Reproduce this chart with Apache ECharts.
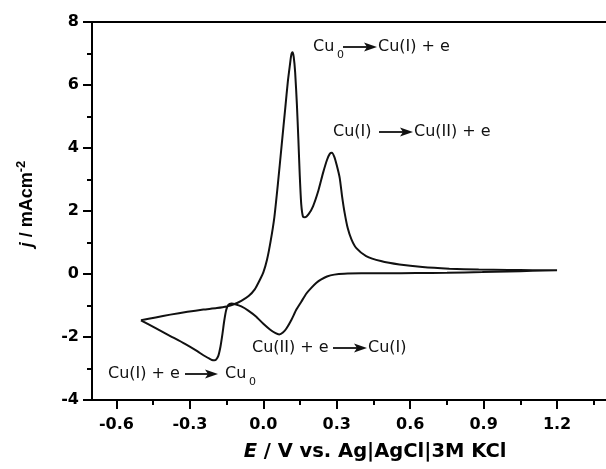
<!DOCTYPE html>
<html>
<head>
<meta charset="utf-8">
<script src="https://cdn.jsdelivr.net/npm/echarts@6/dist/echarts.min.js"></script>
<style>html,body{margin:0;padding:0;background:#fff}#c{width:606px;height:469px}</style>
</head>
<body>
<div id="c"></div>
<script>
// Anodic sweep (from negative vertex to +1.2 V)
const E_forward = [-0.50,-0.44,-0.38,-0.31,-0.245,-0.19,-0.15,-0.12,-0.09,-0.06,-0.035,-0.015,0.0,0.015,0.03,0.045,0.06,0.075,0.09,0.10,0.108,0.114,0.119,0.124,0.13,0.137,0.143,0.149,0.155,0.162,0.17,0.185,0.203,0.225,0.244,0.26,0.272,0.28,0.29,0.30,0.312,0.322,0.332,0.345,0.36,0.38,0.42,0.48,0.556,0.65,0.76,0.88,1.0,1.1,1.2];
const j_forward = [-1.47,-1.38,-1.29,-1.20,-1.13,-1.08,-1.03,-0.96,-0.85,-0.70,-0.49,-0.20,0.05,0.45,1.05,1.8,2.9,4.1,5.3,6.1,6.6,6.95,7.04,6.9,6.4,5.4,4.3,3.1,2.2,1.82,1.8,1.9,2.15,2.65,3.21,3.62,3.82,3.85,3.72,3.45,3.05,2.45,1.95,1.45,1.1,0.82,0.57,0.41,0.30,0.22,0.17,0.14,0.13,0.12,0.12];
// Cathodic sweep (from +1.2 V back to the negative vertex)
const E_reverse = [1.1,1.0,0.895,0.75,0.624,0.5,0.4,0.33,0.29,0.26,0.235,0.217,0.195,0.176,0.155,0.135,0.115,0.095,0.08,0.065,0.05,0.027,0.0,-0.03,-0.06,-0.09,-0.115,-0.13,-0.143,-0.152,-0.16,-0.167,-0.175,-0.184,-0.193,-0.2,-0.21,-0.22,-0.245,-0.27,-0.32,-0.38,-0.44,-0.50];
const j_reverse = [0.10,0.08,0.06,0.04,0.03,0.02,0.02,0.01,-0.02,-0.08,-0.18,-0.28,-0.45,-0.62,-0.88,-1.13,-1.45,-1.72,-1.86,-1.92,-1.88,-1.76,-1.58,-1.35,-1.17,-1.03,-0.96,-0.94,-0.98,-1.15,-1.5,-1.9,-2.3,-2.6,-2.72,-2.74,-2.73,-2.69,-2.58,-2.45,-2.22,-1.97,-1.72,-1.47];

const xMajorTicks = [-0.6,-0.3,0.0,0.3,0.6,0.9,1.2];
const xMinorTicks = [-0.45,-0.15,0.15,0.45,0.75,1.05,1.35];
const yTicks = [-4,-2,0,2,4,6,8];

const cvData = [];
E_forward.forEach((e,i)=>cvData.push([e, j_forward[i]]));
E_reverse.forEach((e,i)=>cvData.push([e, j_reverse[i]]));

const FONT = '"DejaVu Sans", "Liberation Sans", Arial, sans-serif';
const FONT_NARROW = '"Liberation Sans", Arial, sans-serif';
const annFont = '16px ' + FONT;
const subFont = '11px ' + FONT;

function txt(x, y, s, font) {
  return {type:'text', x:x, y:y, z:10, style:{text:s, font:font||annFont, fill:'#111', align:'left', verticalAlign:'middle'}};
}
function arrow(x1, x2, y) {
  return [
    {type:'line', z:10, shape:{x1:x1, y1:y, x2:x2-9, y2:y}, style:{stroke:'#111', lineWidth:1.8}},
    {type:'polygon', z:10, shape:{points:[[x2-13,y-4.5],[x2,y],[x2-13,y+4.5],[x2-10,y]]}, style:{fill:'#111'}}
  ];
}

const X_MIN = -0.7, X_MAX = 1.4;
const chart = echarts.init(document.getElementById('c'), null, {renderer:'canvas'});
chart.setOption({
  animation:false,
  backgroundColor:'#fff',
  grid:{left:92, top:22, right:0, height:378},
  xAxis:[{
    type:'value', min:X_MIN, max:X_MAX, position:'bottom',
    axisLine:{show:true, onZero:false, lineStyle:{color:'#000', width:2}},
    axisTick:{show:true, customValues:xMajorTicks, length:9, lineStyle:{color:'#000', width:2}},
    axisLabel:{customValues:xMajorTicks, formatter:v=>v.toFixed(1), color:'#000', fontFamily:FONT, fontWeight:'bold', fontSize:16, margin:17},
    splitLine:{show:false},
    name:'{i|E} / V vs. Ag|AgCl|3M KCl', nameLocation:'middle', nameGap:42,
    nameTextStyle:{color:'#000', fontFamily:FONT, fontWeight:'bold', fontSize:19.5, padding:[0,0,0,52],
      rich:{i:{fontStyle:'italic', fontWeight:'bold', fontFamily:FONT, fontSize:19.5, color:'#000'}}}
  },{
    type:'value', min:X_MIN, max:X_MAX, position:'bottom',
    axisLine:{show:false, onZero:false},
    axisTick:{show:true, customValues:xMinorTicks, length:5, lineStyle:{color:'#000', width:2}},
    axisLabel:{show:false}, splitLine:{show:false}
  },{
    type:'value', min:X_MIN, max:X_MAX, position:'top',
    axisLine:{show:true, onZero:false, lineStyle:{color:'#000', width:2}},
    axisTick:{show:false}, axisLabel:{show:false}, splitLine:{show:false}
  }],
  yAxis:{
    type:'value', min:-4, max:8, interval:2,
    axisLine:{show:true, onZero:false, lineStyle:{color:'#000', width:2}},
    axisTick:{show:true, length:9, lineStyle:{color:'#000', width:2}},
    minorTick:{show:true, splitNumber:2, length:5, lineStyle:{color:'#000', width:2}},
    axisLabel:{color:'#000', fontFamily:FONT, fontWeight:'bold', fontSize:16, margin:13},
    splitLine:{show:false},
    name:'{i|j} / mAcm{s|-2}', nameLocation:'middle', nameGap:52, nameRotate:90,
    nameTextStyle:{color:'#000', fontFamily:FONT_NARROW, fontWeight:'bold', fontSize:18, padding:[0,0,0,14],
      rich:{i:{fontStyle:'italic', fontWeight:'bold', fontFamily:FONT_NARROW, fontSize:18, color:'#000'},
            s:{fontWeight:'bold', fontFamily:FONT_NARROW, fontSize:13, color:'#000', verticalAlign:'top', padding:[0,0,12,0]}}}
  },
  series:[{
    type:'line', xAxisIndex:0, yAxisIndex:0, data:cvData, showSymbol:false, smooth:0.2,
    lineStyle:{color:'#111', width:2}, clip:true
  }],
  graphic:[].concat(
    [txt(313,47,'Cu'), txt(337,55,'0',subFont)], arrow(343,377,47), [txt(378,47,'Cu(I) + e')],
    [txt(333,132,'Cu(I)')], arrow(379,413,132), [txt(414,132,'Cu(II) + e')],
    [txt(252,348,'Cu(II) + e')], arrow(333,367,348), [txt(368,348,'Cu(I)')],
    [txt(108,374,'Cu(I) + e')], arrow(185,218,374), [txt(225,374,'Cu'), txt(249,382,'0',subFont)]
  )
});
</script>
</body>
</html>
